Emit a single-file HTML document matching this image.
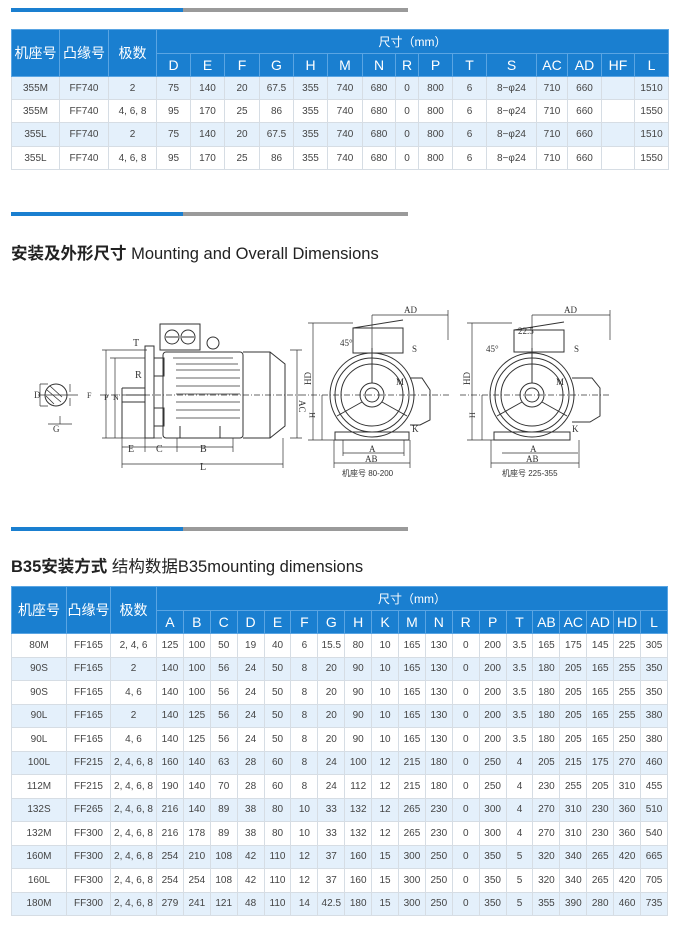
<!DOCTYPE html>
<html><head><meta charset="utf-8"><style>
*{margin:0;padding:0;box-sizing:border-box}
body{width:680px;height:930px;background:#fff;position:relative;font-family:"Liberation Sans","Noto Sans CJK SC",sans-serif;overflow:hidden}
.bar{position:absolute;height:4px}
table{position:absolute;border-collapse:collapse;table-layout:fixed;left:11px;width:657px}
td{border:1px solid #d6dde4;text-align:center;font-size:10px;color:#444;padding:0;white-space:nowrap;overflow:hidden}
th{background:#1a7fd0;color:#fff;font-weight:normal;border:1px solid #5aa5e3;padding:0;font-size:14px;overflow:hidden}
tr.l td{background:#e4f0fb}
.title{position:absolute;left:11px;font-size:16.5px;color:#222;white-space:nowrap}
.title b{font-weight:bold}
</style></head><body>
<div class="bar" style="left:11px;top:8px;width:172px;background:#1a7fd0"></div>
<div class="bar" style="left:183px;top:8px;width:225px;background:#9a9a9a"></div>

<table style="top:29px">
<colgroup><col style="width:48px"><col style="width:49px"><col style="width:48px"><col style="width:34px"><col style="width:34px"><col style="width:35px"><col style="width:34px"><col style="width:34px"><col style="width:35px"><col style="width:33px"><col style="width:23px"><col style="width:34px"><col style="width:34px"><col style="width:50px"><col style="width:31px"><col style="width:34px"><col style="width:33px"><col style="width:34px"></colgroup>
<tr style="height:24px"><th rowspan="2">机座号</th><th rowspan="2">凸缘号</th><th rowspan="2">极数</th><th colspan="15" style="font-size:12px">尺寸（mm）</th></tr>
<tr style="height:23px"><th>D</th><th>E</th><th>F</th><th>G</th><th>H</th><th>M</th><th>N</th><th>R</th><th>P</th><th>T</th><th>S</th><th>AC</th><th>AD</th><th>HF</th><th>L</th></tr>
<tr class="l" style="height:23px"><td>355M</td><td>FF740</td><td>2</td><td>75</td><td>140</td><td>20</td><td>67.5</td><td>355</td><td>740</td><td>680</td><td>0</td><td>800</td><td>6</td><td>8−φ24</td><td>710</td><td>660</td><td></td><td>1510</td></tr>
<tr style="height:23px"><td>355M</td><td>FF740</td><td>4, 6, 8</td><td>95</td><td>170</td><td>25</td><td>86</td><td>355</td><td>740</td><td>680</td><td>0</td><td>800</td><td>6</td><td>8−φ24</td><td>710</td><td>660</td><td></td><td>1550</td></tr>
<tr class="l" style="height:24px"><td>355L</td><td>FF740</td><td>2</td><td>75</td><td>140</td><td>20</td><td>67.5</td><td>355</td><td>740</td><td>680</td><td>0</td><td>800</td><td>6</td><td>8−φ24</td><td>710</td><td>660</td><td></td><td>1510</td></tr>
<tr style="height:23px"><td>355L</td><td>FF740</td><td>4, 6, 8</td><td>95</td><td>170</td><td>25</td><td>86</td><td>355</td><td>740</td><td>680</td><td>0</td><td>800</td><td>6</td><td>8−φ24</td><td>710</td><td>660</td><td></td><td>1550</td></tr>
</table>

<div class="bar" style="left:11px;top:212px;width:172px;background:#1a7fd0"></div>
<div class="bar" style="left:183px;top:212px;width:225px;background:#9a9a9a"></div>
<div class="title" style="top:240px"><b>安装及外形尺寸</b> Mounting and Overall Dimensions</div>

<svg style="position:absolute;left:0;top:290px" width="680" height="200" viewBox="0 290 680 200" fill="none" stroke="#333" stroke-width="1">
<circle cx="56" cy="395" r="11"/><path d="M47 390l14 12M50 386l12 11M46 396l8 8" stroke-width="0.8"/>
<path d="M40 384v22M40 384h8M40 406h8M38 395h40M70 392v-8M70 398v8M60 416v8M48 424h24" stroke-width="0.7"/>
<text x="34" y="398" font-size="9" fill="#333" stroke="none" font-family="Liberation Serif">D</text>
<text x="53" y="432" font-size="9" fill="#333" stroke="none" font-family="Liberation Serif">G</text>
<text x="87" y="398" font-size="8" fill="#333" stroke="none" font-family="Liberation Serif">F</text>
<rect x="160" y="324" width="40" height="26"/><circle cx="172" cy="337" r="7"/><circle cx="188" cy="337" r="7"/>
<path d="M166 337h12M182 337h12"/>
<circle cx="213" cy="343" r="6"/>
<rect x="163" y="352" width="80" height="86" rx="3"/>
<path d="M173 358h60M176 370h64M176 378h64M176 386h64M176 394h64M176 402h64M176 410h64M176 418h64M176 364h62" stroke-width="0.8"/>
<path d="M243 352h27l15 12v62l-15 12h-27M270 352v86"/>
<rect x="145" y="346" width="9" height="92"/>
<rect x="154" y="358" width="10" height="18"/><rect x="154" y="408" width="10" height="18"/>
<path d="M122 388h23M122 402h23M122 388v50M126 395h20" />
<path d="M175 438h55M180 426v12M220 426v12"/>
<path d="M100 395h200" stroke-dasharray="6,2,1,2" stroke-width="0.7"/>
<path d="M106 350v88M115 358v80M102 350h45M110 358h35M102 438h60M297 350v88M290 350h12M290 438h12" stroke-width="0.7"/>
<path d="M122 438v30M145 438v14M177 438v14M233 438v14M283 438v30M122 447h111M122 464h161" stroke-width="0.7"/>
<g fill="#333" stroke="none" font-family="Liberation Serif" font-size="10">
<text x="133" y="346">T</text><text x="135" y="378">R</text><text x="128" y="452">E</text><text x="156" y="452">C</text><text x="200" y="452">B</text><text x="200" y="470">L</text>
<text x="104" y="400" font-size="8">P</text><text x="113" y="400" font-size="8">N</text><text x="299" y="400" font-size="9" transform="rotate(90 299 400)">AC</text>
</g>
<g>
<circle cx="372" cy="395" r="42"/><circle cx="372" cy="395" r="37"/><circle cx="372" cy="395" r="31"/>
<circle cx="372" cy="395" r="12"/><circle cx="372" cy="395" r="7"/>
<path d="M372 383v-35M362 402l-25 14M382 402l25 14M353 328h50v25h-50zM353 328l50 -8"/>
<path d="M410 378h12l8 12v30l-10 5h-10" />
<path d="M335 432h74v8h-74z"/>
<path d="M300 395h150" stroke-dasharray="6,2,1,2" stroke-width="0.7"/>
<path d="M313 323v117M308 323h45M308 440h30M322 395v45M372 315v40M372 315h76M448 310v30M343 453h61M334 463h76M334 440v28M410 440v28M343 440v16M404 440v16" stroke-width="0.7"/>
</g>
<g>
<circle cx="532" cy="395" r="42"/><circle cx="532" cy="395" r="37"/><circle cx="532" cy="395" r="31"/>
<circle cx="532" cy="395" r="12"/><circle cx="532" cy="395" r="7"/>
<path d="M532 383v-35M522 402l-25 14M542 402l25 14M514 330h50v22h-50zM514 330l50 -8"/>
<path d="M572 378h20l8 10v28l-10 6h-18"/>
<path d="M494 432h76v8h-76z"/>
<path d="M460 395h150" stroke-dasharray="6,2,1,2" stroke-width="0.7"/>
<path d="M472 323v117M467 323h45M467 440h30M482 395v45M532 315v40M532 315h78M610 310v30M502 453h76M491 463h88M491 440v28M579 440v28" stroke-width="0.7"/>
</g>
<g fill="#333" stroke="none" font-family="Liberation Serif" font-size="9">
<text x="404" y="313">AD</text><text x="564" y="313">AD</text>
<text x="340" y="346">45°</text><text x="486" y="352">45°</text><text x="518" y="334">22.5</text>
<text x="412" y="352">S</text><text x="574" y="352">S</text><text x="396" y="385">M</text><text x="556" y="385">M</text>
<text x="412" y="432">K</text><text x="572" y="432">K</text>
<text x="369" y="452">A</text><text x="365" y="462">AB</text><text x="530" y="452">A</text><text x="526" y="462">AB</text>
<text x="315" y="418" font-size="8" transform="rotate(-90 315 418)">H</text>
<text x="311" y="385" transform="rotate(-90 311 385)">HD</text>
<text x="475" y="418" font-size="8" transform="rotate(-90 475 418)">H</text>
<text x="470" y="385" transform="rotate(-90 470 385)">HD</text>
</g>
<g fill="#333" stroke="none" font-size="8" font-family="Liberation Sans,Noto Sans CJK SC,sans-serif">
<text x="342" y="476">机座号 80-200</text><text x="502" y="476">机座号 225-355</text></g>
</svg>

<div class="bar" style="left:11px;top:527px;width:172px;background:#1a7fd0"></div>
<div class="bar" style="left:183px;top:527px;width:225px;background:#9a9a9a"></div>
<div class="title" style="top:553px"><b>B35安装方式</b> 结构数据B35mounting dimensions</div>

<table style="top:586px">
<colgroup><col style="width:55px"><col style="width:44px"><col style="width:46px"><col span="19" style="width:26.9px"></colgroup>
<tr style="height:24px"><th rowspan="2">机座号</th><th rowspan="2">凸缘号</th><th rowspan="2">极数</th><th colspan="19" style="font-size:12px">尺寸（mm）</th></tr>
<tr style="height:23px"><th>A</th><th>B</th><th>C</th><th>D</th><th>E</th><th>F</th><th>G</th><th>H</th><th>K</th><th>M</th><th>N</th><th>R</th><th>P</th><th>T</th><th>AB</th><th>AC</th><th>AD</th><th>HD</th><th>L</th></tr>
<tr style="height:23.5px"><td>80M</td><td>FF165</td><td>2, 4, 6</td><td>125</td><td>100</td><td>50</td><td>19</td><td>40</td><td>6</td><td>15.5</td><td>80</td><td>10</td><td>165</td><td>130</td><td>0</td><td>200</td><td>3.5</td><td>165</td><td>175</td><td>145</td><td>225</td><td>305</td></tr>
<tr class="l" style="height:23.5px"><td>90S</td><td>FF165</td><td>2</td><td>140</td><td>100</td><td>56</td><td>24</td><td>50</td><td>8</td><td>20</td><td>90</td><td>10</td><td>165</td><td>130</td><td>0</td><td>200</td><td>3.5</td><td>180</td><td>205</td><td>165</td><td>255</td><td>350</td></tr>
<tr style="height:23.5px"><td>90S</td><td>FF165</td><td>4, 6</td><td>140</td><td>100</td><td>56</td><td>24</td><td>50</td><td>8</td><td>20</td><td>90</td><td>10</td><td>165</td><td>130</td><td>0</td><td>200</td><td>3.5</td><td>180</td><td>205</td><td>165</td><td>255</td><td>350</td></tr>
<tr class="l" style="height:23.5px"><td>90L</td><td>FF165</td><td>2</td><td>140</td><td>125</td><td>56</td><td>24</td><td>50</td><td>8</td><td>20</td><td>90</td><td>10</td><td>165</td><td>130</td><td>0</td><td>200</td><td>3.5</td><td>180</td><td>205</td><td>165</td><td>255</td><td>380</td></tr>
<tr style="height:23.5px"><td>90L</td><td>FF165</td><td>4, 6</td><td>140</td><td>125</td><td>56</td><td>24</td><td>50</td><td>8</td><td>20</td><td>90</td><td>10</td><td>165</td><td>130</td><td>0</td><td>200</td><td>3.5</td><td>180</td><td>205</td><td>165</td><td>250</td><td>380</td></tr>
<tr class="l" style="height:23.5px"><td>100L</td><td>FF215</td><td>2, 4, 6, 8</td><td>160</td><td>140</td><td>63</td><td>28</td><td>60</td><td>8</td><td>24</td><td>100</td><td>12</td><td>215</td><td>180</td><td>0</td><td>250</td><td>4</td><td>205</td><td>215</td><td>175</td><td>270</td><td>460</td></tr>
<tr style="height:23.5px"><td>112M</td><td>FF215</td><td>2, 4, 6, 8</td><td>190</td><td>140</td><td>70</td><td>28</td><td>60</td><td>8</td><td>24</td><td>112</td><td>12</td><td>215</td><td>180</td><td>0</td><td>250</td><td>4</td><td>230</td><td>255</td><td>205</td><td>310</td><td>455</td></tr>
<tr class="l" style="height:23.5px"><td>132S</td><td>FF265</td><td>2, 4, 6, 8</td><td>216</td><td>140</td><td>89</td><td>38</td><td>80</td><td>10</td><td>33</td><td>132</td><td>12</td><td>265</td><td>230</td><td>0</td><td>300</td><td>4</td><td>270</td><td>310</td><td>230</td><td>360</td><td>510</td></tr>
<tr style="height:23.5px"><td>132M</td><td>FF300</td><td>2, 4, 6, 8</td><td>216</td><td>178</td><td>89</td><td>38</td><td>80</td><td>10</td><td>33</td><td>132</td><td>12</td><td>265</td><td>230</td><td>0</td><td>300</td><td>4</td><td>270</td><td>310</td><td>230</td><td>360</td><td>540</td></tr>
<tr class="l" style="height:23.5px"><td>160M</td><td>FF300</td><td>2, 4, 6, 8</td><td>254</td><td>210</td><td>108</td><td>42</td><td>110</td><td>12</td><td>37</td><td>160</td><td>15</td><td>300</td><td>250</td><td>0</td><td>350</td><td>5</td><td>320</td><td>340</td><td>265</td><td>420</td><td>665</td></tr>
<tr style="height:23.5px"><td>160L</td><td>FF300</td><td>2, 4, 6, 8</td><td>254</td><td>254</td><td>108</td><td>42</td><td>110</td><td>12</td><td>37</td><td>160</td><td>15</td><td>300</td><td>250</td><td>0</td><td>350</td><td>5</td><td>320</td><td>340</td><td>265</td><td>420</td><td>705</td></tr>
<tr class="l" style="height:23.5px"><td>180M</td><td>FF300</td><td>2, 4, 6, 8</td><td>279</td><td>241</td><td>121</td><td>48</td><td>110</td><td>14</td><td>42.5</td><td>180</td><td>15</td><td>300</td><td>250</td><td>0</td><td>350</td><td>5</td><td>355</td><td>390</td><td>280</td><td>460</td><td>735</td></tr>
</table>
</body></html>
